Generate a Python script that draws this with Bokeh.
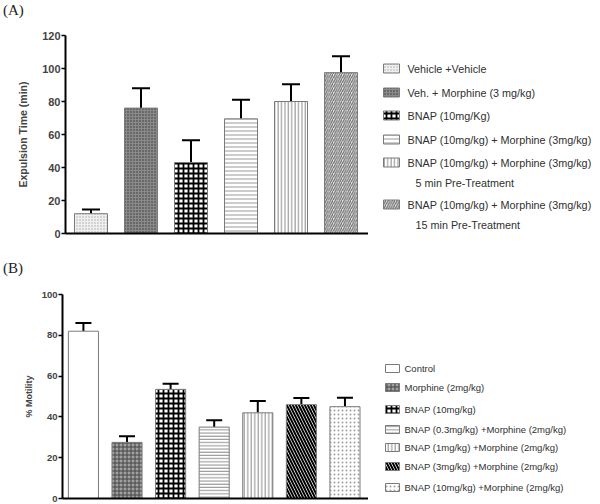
from bokeh.plotting import figure
from bokeh.layouts import column, row
from bokeh.models import Range1d, FixedTicker, Whisker, TeeHead, ColumnDataSource, Div
from bokeh.core.properties import value
from bokeh.embed import file_html
from bokeh.resources import INLINE

# ---------------- data: panel A ----------------
a_groups = ["Vehicle +Vehicle", "Veh. + Morphine (3 mg/kg)", "BNAP (10mg/Kg)",
            "BNAP (10mg/kg) + Morphine (3mg/kg)",
            "BNAP (10mg/kg)  + Morphine (3mg/kg)",
            "BNAP (10mg/kg) + Morphine (3mg/kg)"]
a_subtitles = ["", "", "", "", "5 min Pre-Treatment", "15 min Pre-Treatment"]
a_means = [12, 76, 43, 69.5, 80, 97.5]
a_errs = [2.5, 12, 13.5, 11.5, 10.5, 10]
a_ticks = [0, 20, 40, 60, 80, 100, 120]

# ---------------- data: panel B ----------------
b_groups = ["Control", "Morphine (2mg/kg)", "BNAP (10mg/kg)",
            "BNAP (0.3mg/kg) +Morphine (2mg/kg)", "BNAP (1mg/kg) +Morphine (2mg/kg)",
            "BNAP (3mg/kg) +Morphine (2mg/kg)", "BNAP (10mg/kg) +Morphine (2mg/kg)"]
b_means = [82, 27.5, 53.5, 35, 42, 46, 45]
b_errs = [4, 3, 2.7, 3.4, 5.8, 3.3, 4.4]
b_ticks = [0, 20, 40, 60, 80, 100]

# ---------------- styles ----------------
a_fill = ["#f0f0f0", "#8a8a8a", "white", "white", "white", "#ececec"]
a_hatch = ["dot", "dot", "cross", "horizontal_line", "vertical_line", "right_diagonal_line"]
a_hcol = ["#a8a8a8", "#333333", "black", "#999999", "#8a8a8a", "#6a6a6a"]
a_hscale = [3, 3, 5, 4, 3.4, 4.5]
a_hweight = [1, 1, 1.8, 1, 1, 1.2]

b_fill = ["white", "#a0a0a0", "white", "white", "white", "white", "white"]
b_hatch = ["blank", "cross", "cross", "horizontal_line", "vertical_line", "left_diagonal_line", "dot"]
b_hcol = ["black", "#444444", "black", "#8a8a8a", "#8a8a8a", "black", "#a0a0a0"]
b_hscale = [4, 4, 5, 3.2, 3.5, 6, 4]
b_hweight = [1, 1, 1.8, 1, 1, 2, 1]

TICK_FONT = "Liberation Sans"
OUTLINE = "#7a7a7a"


def bar_panel(means, errs, ticks, ylabel, fill, hatch, hcol, hscale, hweight,
              w, h, left, top, bottom, x_start, x_end, y_end, bar_w, cap,
              tick_size, label_size, lab_standoff):
    n = len(means)
    xs = list(range(n))
    src = ColumnDataSource(dict(x=xs, top=means, upper=[m + e for m, e in zip(means, errs)],
                                fill=fill, hatch=hatch, hcol=hcol, hscale=hscale, hweight=hweight))
    p = figure(width=w, height=h, output_backend="svg", toolbar_location=None,
               x_range=Range1d(x_start, x_end), y_range=Range1d(0, y_end),
               min_border_left=left, min_border_right=0, min_border_top=top,
               min_border_bottom=bottom)
    p.outline_line_color = None
    p.grid.visible = False
    p.vbar(x="x", top="top", bottom=0, width=bar_w, source=src,
           fill_color="fill", hatch_pattern="hatch", hatch_color="hcol",
           hatch_scale="hscale", hatch_weight="hweight",
           line_color=OUTLINE, line_width=1)
    wk = Whisker(base="x", upper="upper", lower="top", source=src, dimension="height",
                 line_color="black", line_width=2,
                 upper_head=TeeHead(size=cap, line_width=2, line_color="black"),
                 lower_head=None)
    p.add_layout(wk)
    ya = p.yaxis[0]
    ya.ticker = FixedTicker(ticks=ticks)
    ya.minor_tick_line_color = None
    ya.major_tick_in = 0
    ya.major_tick_out = 4
    ya.major_tick_line_width = 1.5
    ya.axis_line_width = 2
    ya.major_label_text_font = TICK_FONT
    ya.major_label_text_font_style = "bold"
    ya.major_label_text_font_size = tick_size
    ya.major_label_standoff = 1
    ya.axis_label = ylabel
    ya.axis_label_text_font = TICK_FONT
    ya.axis_label_text_font_style = "bold"
    ya.axis_label_text_font_size = label_size
    ya.axis_label_standoff = lab_standoff
    xa = p.xaxis[0]
    xa.ticker = FixedTicker(ticks=[])
    xa.major_tick_out = 0
    xa.minor_tick_line_color = None
    xa.axis_line_width = 2
    xa.major_label_text_font_size = "0px"
    return p


def legend_panel(lines, subs, fill, hatch, hcol, hscale, hweight, w, h, top, bottom,
                 ys, sx0, sx1, sh, tx, tx2, sub_dy, font_size):
    # frame is aligned with the neighbouring bar panel (same borders);
    # the y range is chosen so that one unit equals one pixel from the figure top
    p = figure(width=w, height=h, output_backend="svg", toolbar_location=None,
               x_range=Range1d(0, w), y_range=Range1d(h - bottom, top),
               x_axis_type=None, y_axis_type=None,
               min_border_left=0, min_border_right=0,
               min_border_top=top, min_border_bottom=bottom)
    p.outline_line_color = None
    p.grid.visible = False
    n = len(lines)
    src = ColumnDataSource(dict(left=[sx0] * n, right=[sx1] * n,
                                top=[y - sh / 2 for y in ys], bottom=[y + sh / 2 for y in ys],
                                fill=fill, hatch=hatch, hcol=hcol, hscale=hscale, hweight=hweight,
                                y=ys, text=lines, tx=[tx] * n))
    p.quad(left="left", right="right", top="top", bottom="bottom", source=src,
           fill_color="fill", hatch_pattern="hatch", hatch_color="hcol",
           hatch_scale="hscale", hatch_weight="hweight", line_color=OUTLINE, line_width=1)
    p.text(x="tx", y="y", text="text", source=src, text_baseline="middle",
           text_font=value("Liberation Sans"), text_font_size=font_size, text_color="#303030")
    if subs is not None:
        sy, st = [], []
        for y, s in zip(ys, subs):
            if s:
                sy.append(y + sub_dy)
                st.append(s)
        p.text(x=[tx2] * len(sy), y=sy, text=st, text_baseline="middle",
               text_font=value("Liberation Sans"), text_font_size=font_size, text_color="#303030")
    return p


def panel_tag(text, h, pad_top):
    return Div(text=text, width=600, height=h,
               styles={"margin": "0", "padding": "0", "overflow": "visible"},
               stylesheets=[":host{margin:0;padding:0;} div{margin:0;padding:%dpx 0 0 3px;"
                            "font-family:'Liberation Serif';font-size:15px;line-height:15px;"
                            "color:#222;}" % pad_top])


# ---------- Panel A ----------
ta = panel_tag("(A)", 20, 3)
pa = bar_panel(a_means, a_errs, a_ticks, "Expulsion Time (min)", a_fill, a_hatch, a_hcol,
               a_hscale, a_hweight, w=368, h=230, left=65, top=15, bottom=17,
               x_start=-0.51, x_end=5.55, y_end=120, bar_w=0.66, cap=18,
               tick_size="11px", label_size="10.5px", lab_standoff=10)
la = legend_panel(a_groups, a_subtitles, a_fill, a_hatch, a_hcol, a_hscale, a_hweight,
                  w=232, h=230, top=15, bottom=17, ys=[48, 72, 95, 119, 142, 184],
                  sx0=15, sx1=31, sh=9, tx=39, tx2=47, sub_dy=20, font_size="10.8px")

# ---------- Panel B ----------
tb = panel_tag("(B)", 30, 11)
pb = bar_panel(b_means, b_errs, b_ticks, "% Motility", b_fill, b_hatch, b_hcol,
               b_hscale, b_hweight, w=368, h=224, left=62, top=14, bottom=6,
               x_start=-0.48, x_end=6.54, y_end=100, bar_w=0.69, cap=16,
               tick_size="9.5px", label_size="9px", lab_standoff=5)
lb = legend_panel(b_groups, None, b_fill, b_hatch, b_hcol, b_hscale, b_hweight,
                  w=232, h=224, top=14, bottom=6, ys=[88, 107, 129, 149, 167, 186, 207],
                  sx0=17, sx1=31, sh=8, tx=36, tx2=36, sub_dy=0, font_size="9.5px")

layout = column(ta, row(pa, la), tb, row(pb, lb))
open("out.html", "w").write(file_html(layout, INLINE))
